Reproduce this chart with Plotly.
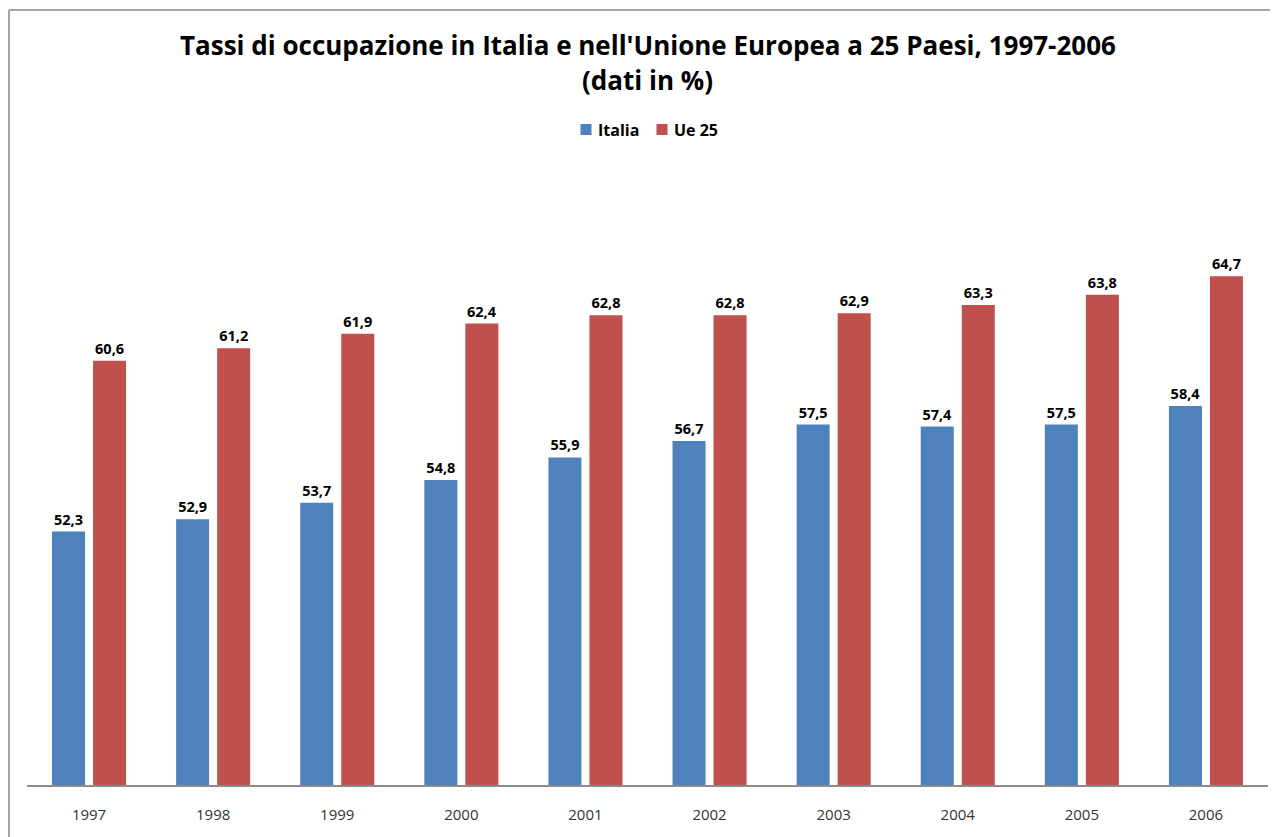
import plotly.graph_objects as go

years = ["1997", "1998", "1999", "2000", "2001", "2002", "2003", "2004", "2005", "2006"]
italia = [52.3, 52.9, 53.7, 54.8, 55.9, 56.7, 57.5, 57.4, 57.5, 58.4]
ue25 = [60.6, 61.2, 61.9, 62.4, 62.8, 62.8, 62.9, 63.3, 63.8, 64.7]
series_names = ["Italia", "Ue 25"]
series_colors = ["#4F81BD", "#C0504D"]
title_line1 = "Tassi di occupazione in Italia e nell'Unione Europea a 25 Paesi, 1997-2006"
title_line2 = "(dati in %)"

FONT = "Open Sans"
OFF = 8  # page body margin offset
W, H = 1278 - OFF, 837 - OFF
ml, mr, mt, mb = 19, 10, 159, 52
ph = H - mt - mb
pw = W - ml - mr

def py(ref_y):
    return (H - mb - (ref_y - OFF)) / ph

def px(ref_x):
    return ((ref_x - OFF) - ml) / pw

def fmt(v):
    return f"{v:.1f}".replace(".", ",")

fig = go.Figure()
for name, vals, col in zip(series_names, [italia, ue25], series_colors):
    fig.add_trace(go.Bar(
        x=years, y=vals, name=name,
        marker=dict(color=col, line=dict(width=0)),
        text=[fmt(v) for v in vals], textposition="outside",
        textfont=dict(family=FONT, size=14.5, color="#000000", weight="bold"),
        cliponaxis=False, showlegend=False,
    ))

annotations = [
    dict(text=title_line1, x=0.5, xref="paper", y=py(45), yref="paper",
         xanchor="center", yanchor="middle", showarrow=False,
         font=dict(family=FONT, size=26, color="#000000", weight="bold")),
    dict(text=title_line2, x=0.5, xref="paper", y=py(80), yref="paper",
         xanchor="center", yanchor="middle", showarrow=False,
         font=dict(family=FONT, size=26, color="#000000", weight="bold")),
]
shapes = [
    dict(type="line", xref="paper", yref="paper", x0=px(9), x1=px(1300), y0=py(10), y1=py(10),
         line=dict(color="#a6a6a6", width=2)),
    dict(type="line", xref="paper", yref="paper", x0=px(9), x1=px(9), y0=py(10), y1=py(860),
         line=dict(color="#a6a6a6", width=2)),
]

# custom legend (square + label)
legend_sq_x = [580.5, 656.5]
legend_txt_x = [596, 672]
for name, col, sx, tx in zip(series_names, series_colors, legend_sq_x, legend_txt_x):
    shapes.append(dict(type="rect", xref="paper", yref="paper",
                       x0=px(sx), x1=px(sx + 11), y0=py(135), y1=py(124),
                       fillcolor=col, line=dict(width=0)))
    annotations.append(dict(text=name, x=px(tx), xref="paper", y=py(130), yref="paper",
                            xanchor="left", yanchor="middle", showarrow=False,
                            font=dict(family=FONT, size=16, color="#000000", weight="bold")))

fig.update_layout(
    width=W, height=H,
    margin=dict(l=ml, r=mr, t=mt, b=mb),
    paper_bgcolor="white", plot_bgcolor="white",
    barmode="group", bargap=0.339, bargroupgap=0.195,
    showlegend=False,
    xaxis=dict(showgrid=False, showline=True, linecolor="#8c8c8c", linewidth=1.5,
               ticks="", ticklabelstandoff=15,
               tickfont=dict(family=FONT, size=15, color="#333333")),
    yaxis=dict(range=[40, 70], visible=False, showgrid=False),
    annotations=annotations,
    shapes=shapes,
)

fig.write_html("out.html")
